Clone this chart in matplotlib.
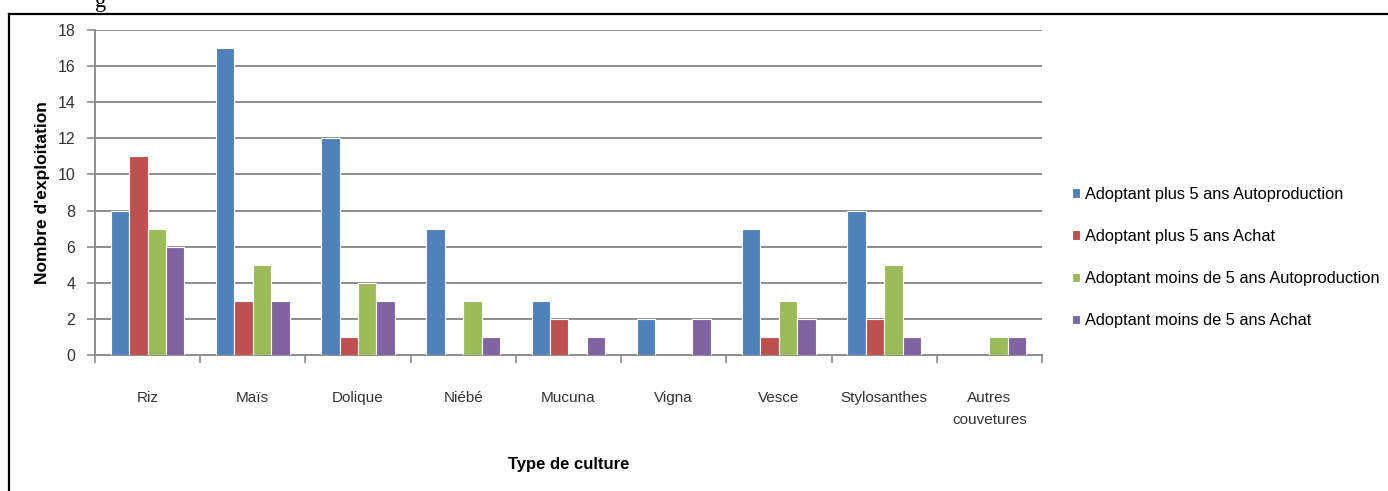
import numpy as np
import matplotlib.pyplot as plt
from matplotlib.lines import Line2D

plt.rcParams['font.family'] = ['Liberation Sans', 'DejaVu Sans']

# Données : nombre d'exploitations par type de culture
cultures = ["Riz", "Maïs", "Dolique", "Niébé", "Mucuna", "Vigna", "Vesce",
            "Stylosanthes", "Autres\ncouvetures"]
plus5_autoprod = [8, 17, 12, 7, 3, 2, 7, 8, 0]
plus5_achat = [11, 3, 1, 0, 2, 0, 1, 2, 0]
moins5_autoprod = [7, 5, 4, 3, 0, 0, 3, 5, 1]
moins5_achat = [6, 3, 3, 1, 1, 2, 2, 1, 1]

series = [
    ("Adoptant plus 5 ans Autoproduction", plus5_autoprod, "#4F81BD"),
    ("Adoptant plus 5 ans Achat", plus5_achat, "#C0504D"),
    ("Adoptant moins de 5 ans Autoproduction", moins5_autoprod, "#9BBB59"),
    ("Adoptant moins de 5 ans Achat", moins5_achat, "#8064A2"),
]

fig = plt.figure(figsize=(13.88, 4.91), dpi=100)
ax = fig.add_axes([0.0684, 0.277, 0.6823, 0.662])

x = np.arange(len(cultures))
w = 0.175
for i, (label, vals, col) in enumerate(series):
    ax.bar(x + (i - 1.5) * w, vals, w, color=col, edgecolor="white",
           linewidth=0.8, label=label, zorder=3)

ax.set_xlim(-0.5, len(cultures) - 0.5)
ax.set_ylim(0, 18)
ax.set_yticks(range(0, 19, 2))
ax.yaxis.grid(True, color="#8c8c8c", linewidth=1.4, zorder=0)

# ticks des catégories placés aux séparations
ax.set_xticks(x)
ax.set_xticklabels(cultures, fontsize=11, color="#333333", linespacing=1.75)
ax.set_xticks(np.arange(-0.5, len(cultures)), minor=True)
ax.tick_params(axis="x", which="major", length=0, pad=26)
ax.tick_params(axis="x", which="minor", length=6, color="#8c8c8c", width=1.2)
ax.tick_params(axis="y", length=6, color="#8c8c8c", width=1.2,
               labelsize=11.5, labelcolor="#333333", pad=8)

for s in ["top", "right"]:
    ax.spines[s].set_visible(False)
for s in ["left", "bottom"]:
    ax.spines[s].set_color("#8c8c8c")
    ax.spines[s].set_linewidth(1.4)

ax.set_ylabel("Nombre d'exploitation", fontsize=12.5, fontweight="bold")
ax.yaxis.set_label_coords(-0.047, 0.5)
ax.set_xlabel("Type de culture", fontsize=12, fontweight="bold", va="center")
ax.xaxis.set_label_coords(0.5, -0.338)

ax.legend(loc="center left", bbox_to_anchor=(1.025, 0.3, ), frameon=False,
          fontsize=11.8, handlelength=0.5, handleheight=0.5, handletextpad=0.3,
          labelspacing=1.66, borderaxespad=0)

# cadre et fragment de légende au-dessus
fig.add_artist(Line2D([0.0068, 0.0068], [-0.05, 0.9715], color="black", lw=1.6))
fig.add_artist(Line2D([0.0068, 1.05], [0.9715, 0.9715], color="black", lw=1.6))
fig.text(0.0685, 0.995, "g", fontsize=16, family="Liberation Serif",
         va="center", ha="left")

fig.savefig("out.png", dpi=100)
